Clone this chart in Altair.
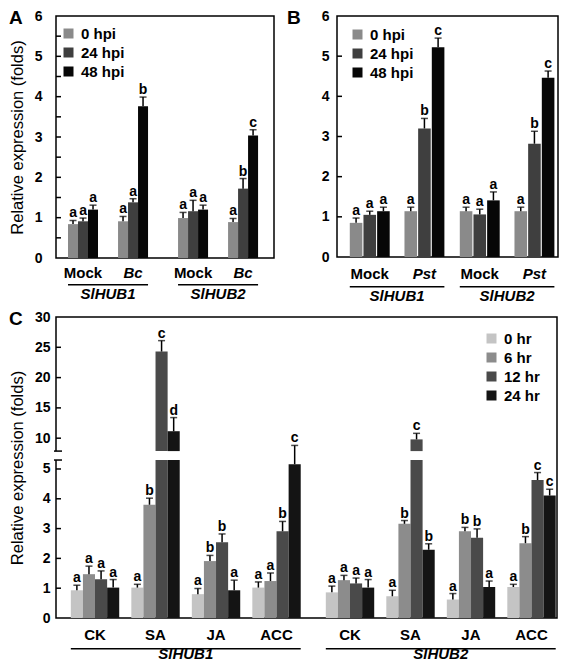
import altair as alt
import pandas as pd

FONT = "Liberation Sans"

# ---------------- data ----------------
genes = ["SlHUB1", "SlHUB2"]

a_treat = ["Mock", "Bc"]
a_times = ["0 hpi", "24 hpi", "48 hpi"]
a_colors = ["#8a8a8a", "#3f3f3f", "#070707"]
a_mean = [0.84, 0.91, 1.20, 0.91, 1.38, 3.76, 0.99, 1.16, 1.20, 0.89, 1.72, 3.04]
a_err = [0.93, 0.99, 1.31, 1.03, 1.47, 3.99, 1.13, 1.43, 1.31, 0.98, 1.97, 3.18]
a_let = ["a", "a", "a", "a", "a", "b", "a", "a", "a", "a", "b", "c"]

b_treat = ["Mock", "Pst"]
b_mean = [0.85, 1.05, 1.14, 1.14, 3.20, 5.22, 1.14, 1.06, 1.41, 1.14, 2.82, 4.46]
b_err = [0.97, 1.14, 1.24, 1.24, 3.45, 5.45, 1.24, 1.19, 1.62, 1.24, 3.13, 4.63]
b_let = ["a", "a", "a", "a", "b", "c", "a", "a", "a", "a", "b", "c"]

c_treat = ["CK", "SA", "JA", "ACC"]
c_times = ["0 hr", "6 hr", "12 hr", "24 hr"]
c_colors = ["#c4c4c4", "#8c8c8c", "#4a4a4a", "#141414"]
c_mean = [0.93, 1.47, 1.30, 1.02, 1.02, 3.80, 24.3, 11.15, 0.80, 1.91, 2.54, 0.93, 1.02, 1.24, 2.91, 5.16,
          0.86, 1.27, 1.16, 1.02, 0.73, 3.16, 9.8, 2.29, 0.62, 2.91, 2.69, 1.04, 1.04, 2.51, 4.63, 4.11]
c_err = [1.10, 1.74, 1.58, 1.29, 1.13, 4.02, 26.1, 13.4, 0.99, 2.10, 2.82, 1.27, 1.21, 1.51, 3.24, 5.79,
         1.07, 1.43, 1.34, 1.29, 0.93, 3.27, 10.8, 2.49, 0.82, 3.04, 2.99, 1.24, 1.13, 2.73, 4.88, 4.32]
c_let = ["a", "a", "a", "a", "a", "b", "c", "d", "a", "b", "b", "a", "a", "a", "b", "c",
         "a", "a", "a", "a", "a", "b", "c", "b", "a", "b", "b", "a", "a", "b", "c", "c"]

ab_ticklabels = [0, 1, 2, 3, 4, 5, 6]
a_minor = [0.5, 1, 1.5, 2, 2.5, 3, 3.5, 4, 4.5, 5, 5.5]
b_minor = [1, 2, 3, 4, 5]
c_ticklabels = [0, 1, 2, 3, 4, 5, 10, 15, 20, 25, 30]

# broken axis for panel C
LOW_MAX = 5.3      # top of lower segment
GAP_T = 5.6        # axis position where upper segment starts
UP_MIN = 7.87      # value at start of upper segment
UP_RATIO = 0.2033  # compression of upper segment


def up_t(v):
    return GAP_T + (v - UP_MIN) * UP_RATIO


def tpos(v):
    return v if v <= LOW_MAX + 0.01 else up_t(v)


# ---------------- tables ----------------
def ab_tables(treats, times, means, errs, lets):
    bars, ebar = [], []
    i = 0
    for g in genes:
        for t in treats:
            for tm in times:
                s = f"{t}|{tm}"
                bars.append(dict(gene=g, sub=s, time=tm, yb=0.0, yt=means[i]))
                ebar.append(dict(gene=g, sub=s, mt=means[i], et=errs[i], letter=lets[i]))
                i += 1
    return pd.DataFrame(bars), pd.DataFrame(ebar)


def c_tables():
    bars, ebar = [], []
    i = 0
    for g in genes:
        for t in c_treat:
            for tm in c_times:
                s = f"{t}|{tm}"
                m, e = c_mean[i], c_err[i]
                if m <= LOW_MAX:
                    bars.append(dict(gene=g, sub=s, time=tm, yb=0.0, yt=m))
                    ebar.append(dict(gene=g, sub=s, mt=m, et=e, letter=c_let[i]))
                else:
                    bars.append(dict(gene=g, sub=s, time=tm, yb=0.0, yt=LOW_MAX))
                    bars.append(dict(gene=g, sub=s, time=tm, yb=GAP_T, yt=up_t(m)))
                    ebar.append(dict(gene=g, sub=s, mt=up_t(m), et=up_t(e), letter=c_let[i]))
                i += 1
    return pd.DataFrame(bars), pd.DataFrame(ebar)


def sub_domain(treats, times, nspace):
    dom = []
    for k, t in enumerate(treats):
        dom += [f"{t}|{tm}" for tm in times]
        if k < len(treats) - 1:
            dom += [f"_gap{k}_{j}" for j in range(nspace)]
    return dom


def group_labels(treats, mid_time, italic_set):
    rows = []
    for g in genes:
        for t in treats:
            rows.append(dict(gene=g, sub=f"{t}|{mid_time}", label=t, it=t in italic_set))
    return pd.DataFrame(rows)


# ---------------- panel builder ----------------
def panel(bars, ebar, glab, W, H, xsc, xosc, ysc, yax, minor, cdom, crange, legxy,
          letter, letxy, text_dx=0, dys=(21, 28, 43), extra=None):
    X = alt.X("gene:N", scale=xsc, axis=None, title=None)
    XO = alt.XOffset("sub:N", scale=xosc)

    def Y(field):
        return alt.Y(field, scale=ysc, axis=yax)

    legend = alt.Legend(orient="none", legendX=legxy[0], legendY=legxy[1], title=None,
                        symbolType="square", symbolSize=100, symbolStrokeWidth=0,
                        labelFont=FONT, labelFontSize=15, labelFontWeight="bold",
                        labelColor="black", rowPadding=3, padding=0, labelOffset=5)
    layers = []
    layers.append(alt.Chart(bars).mark_bar().encode(
        x=X, xOffset=XO, y=Y("yt:Q"), y2="yb:Q",
        color=alt.Color("time:N", scale=alt.Scale(domain=cdom, range=crange), legend=legend)))
    layers.append(alt.Chart(ebar).mark_rule(color="black", strokeWidth=1.5).encode(
        x=X, xOffset=XO, y=Y("mt:Q"), y2="et:Q"))
    layers.append(alt.Chart(ebar).mark_tick(color="black", thickness=1.5, size=7,
                                            orient="horizontal").encode(
        x=X, xOffset=XO, y=Y("et:Q")))
    layers.append(alt.Chart(ebar).mark_text(font=FONT, fontWeight="bold", fontSize=14,
                                            baseline="alphabetic", dy=-3, color="black").encode(
        x=X, xOffset=XO, y=Y("et:Q"), text="letter:N"))
    layers.append(alt.Chart(pd.DataFrame({"tp": minor})).mark_rule(
        color="black", strokeWidth=1.5).encode(
        y=Y("tp:Q"), x=alt.value(0), x2=alt.value(5)))
    if extra is not None:
        layers += extra(Y)
    for it in (False, True):
        d = glab[glab["it"] == it]
        layers.append(alt.Chart(d).mark_text(
            font=FONT, fontWeight="bold", fontSize=15, baseline="alphabetic",
            fontStyle="italic" if it else "normal", dx=text_dx, color="black").encode(
            x=X, xOffset=XO, y=alt.value(H + dys[0]), text="label:N"))
    gdf = pd.DataFrame({"gene": genes})
    layers.append(alt.Chart(gdf).mark_rect(color="black").encode(
        x=X, y=alt.value(H + dys[1]), y2=alt.value(H + dys[1] + 1.5)))
    layers.append(alt.Chart(gdf).mark_text(
        font=FONT, fontWeight="bold", fontStyle="italic", fontSize=15,
        baseline="alphabetic", color="black").encode(
        x=X, y=alt.value(H + dys[2]), text="gene:N"))
    layers.append(alt.Chart(pd.DataFrame({"p": [letter]})).mark_text(
        font=FONT, fontWeight="bold", fontSize=19, align="left", baseline="top",
        color="black").encode(x=alt.value(letxy[0]), y=alt.value(letxy[1]), text="p:N"))
    return alt.layer(*layers).properties(width=W, height=H)


def yaxis(values, title, lab_pad, title_x, H, expr=None):
    kw = dict(values=values, ticks=False, tickSize=0, domain=False, grid=False,
              labelFont=FONT, labelFontSize=14, labelFontWeight="bold", labelColor="black",
              labelPadding=lab_pad, labelOverlap=False, labelFlush=False)
    if expr:
        kw["labelExpr"] = expr
    else:
        kw["format"] = "d"
    if title:
        kw.update(title=title, titleFont=FONT, titleFontSize=16.5, titleFontWeight="normal",
                  titleColor="black", titleAngle=270, titleX=title_x, titleY=H / 2,
                  titleAlign="center", titleBaseline="middle")
    else:
        kw["title"] = ""
    return alt.Axis(**kw)


# ---------------- panel A ----------------
WA, HA = 218, 242
a_bars, a_eb = ab_tables(a_treat, a_times, a_mean, a_err, a_let)
chartA = panel(
    a_bars, a_eb, group_labels(a_treat, "24 hpi", {"Bc"}), WA, HA,
    alt.Scale(domain=genes, paddingInner=0.2727, paddingOuter=0.127, align=0.43),
    alt.Scale(domain=sub_domain(a_treat, a_times, 2), paddingInner=0, paddingOuter=0),
    alt.Scale(domain=[0, 6], nice=False, zero=True),
    yaxis(ab_ticklabels, "Relative expression (folds)", 14, -38.5, HA),
    a_minor, a_times, a_colors, (5, 10), "A", (-47, -7), dys=(20, 26, 41))

# ---------------- panel B ----------------
WB, HB = 221, 241
b_bars, b_eb = ab_tables(b_treat, a_times, b_mean, b_err, b_let)
chartB = panel(
    b_bars, b_eb, group_labels(b_treat, "24 hpi", {"Pst"}), WB, HB,
    alt.Scale(domain=genes, paddingInner=0.14, paddingOuter=0.0745, align=0.78),
    alt.Scale(domain=sub_domain(b_treat, a_times, 1), paddingInner=0.08, paddingOuter=0),
    alt.Scale(domain=[0, 6], nice=False, zero=True),
    yaxis(ab_ticklabels, None, 8, 0, HB),
    b_minor, a_times, a_colors, (13, 11), "B", (-50, -7), dys=(22, 29, 44))

# ---------------- panel C ----------------
WC, HC = 501, 301
c_bars, c_eb = c_tables()
c_tickpos = [tpos(v) for v in c_ticklabels]
c_minor = [tpos(v) for v in c_ticklabels[1:-1]]
c_expr = (f"datum.value < {LOW_MAX + 0.1} ? format(round(datum.value), 'd') : "
          f"format(round({UP_MIN} + (datum.value - {GAP_T}) / {UP_RATIO}), 'd')")


def c_extra(Y):
    brk = pd.DataFrame({"lo": [LOW_MAX], "hi": [GAP_T]})
    marks = pd.DataFrame({"b": [LOW_MAX, GAP_T]})
    return [
        alt.Chart(brk).mark_rect(color="white").encode(
            x=alt.value(-2), x2=alt.value(2), y=Y("lo:Q"), y2="hi:Q"),
        alt.Chart(marks).mark_rule(color="black", strokeWidth=1.5).encode(
            y=Y("b:Q"), x=alt.value(-2), x2=alt.value(6)),
    ]


chartC = panel(
    c_bars, c_eb, group_labels(c_treat, "6 hr", set()), WC, HC,
    alt.Scale(domain=genes, paddingInner=0.0984, paddingOuter=0.0316, align=0.92),
    alt.Scale(domain=sub_domain(c_treat, c_times, 1), paddingInner=0, paddingOuter=0),
    alt.Scale(domain=[0, up_t(30)], nice=False, zero=True),
    yaxis(c_tickpos, "Relative expression (folds)", 6, -39, HC, c_expr),
    c_minor, c_times, c_colors, (428, 14), "C", (-47, -7),
    text_dx=6, dys=(22, 30, 41), extra=c_extra)

top = alt.hconcat(chartA, chartB, spacing=11).resolve_scale(color="independent", x="independent", y="independent", xOffset="independent")
chart = (alt.vconcat(top, chartC, spacing=4)
         .resolve_scale(color="independent", x="independent", y="independent", xOffset="independent")
         .resolve_legend(color="independent")
         .configure_view(stroke="black", strokeWidth=1.5)
         .properties(padding=0, background="white"))

chart.save("out.html", embed_options={"renderer": "svg", "actions": False})
